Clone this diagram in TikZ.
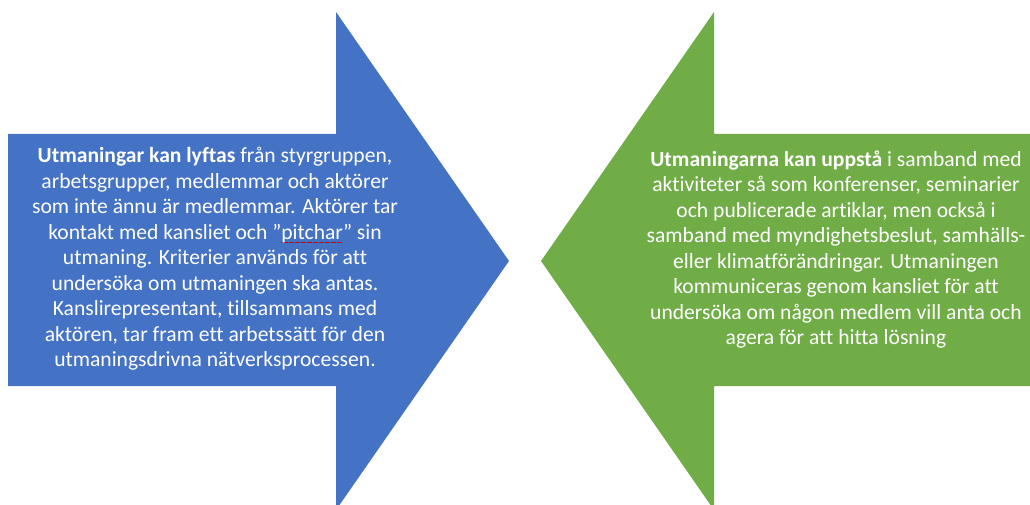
\documentclass[tikz,border=0pt]{standalone}
\usepackage{fontspec}
\setmainfont{Carlito}[Ligatures=NoCommon]
\definecolor{arrowblue}{HTML}{4472C4}
\definecolor{arrowgreen}{HTML}{70AD47}
\newsavebox\spellbox
\newcommand\spellmark[1]{\sbox\spellbox{#1}\rlap{\color{red!80!black}\leaders\hbox{\rule[-0.3ex]{0.6pt}{0.6pt}\kern0.6pt}\hskip\wd\spellbox}\usebox\spellbox}
\tikzset{
  arrowtext/.style={text=white, align=center, font=\fontsize{21.6}{25.5}\selectfont, inner sep=0pt}
}
\begin{document}
\begin{tikzpicture}[x=1pt, y=1pt]
\useasboundingbox (0,0) rectangle (1030,504);
\clip (0,0) rectangle (1030,504);
% left arrow
\fill[arrowblue] (8,370) -- (336,370) -- (336,492) -- (509,243) -- (336,-6) -- (336,118) -- (8,118) -- cycle;
% right arrow
\fill[arrowgreen] (1040,370) -- (714,370) -- (714,492) -- (541,243) -- (714,-6) -- (714,118) -- (1040,118) -- cycle;
\node[arrowtext] (lefttext) at (215,245) {\textbf{Utmaningar kan lyftas} från styrgruppen,\\
arbetsgrupper, medlemmar och aktörer\\
som inte ännu är medlemmar. Aktörer tar\\
kontakt med kansliet och ”\spellmark{pitchar}” sin\\
utmaning. Kriterier används för att\\
undersöka om utmaningen ska antas.\\
Kanslirepresentant, tillsammans med\\
aktören, tar fram ett arbetssätt för den\\
utmaningsdrivna nätverksprocessen.};
\node[arrowtext] (righttext) at (836,254.5) {\textbf{Utmaningarna kan uppstå} i samband med\\
aktiviteter så som konferenser, seminarier\\
och publicerade artiklar, men också i\\
samband med myndighetsbeslut, samhälls-\\
eller klimatförändringar. Utmaningen\\
kommuniceras genom kansliet för att\\
undersöka om någon medlem vill anta och\\
agera för att hitta lösning};
\end{tikzpicture}
\end{document}
